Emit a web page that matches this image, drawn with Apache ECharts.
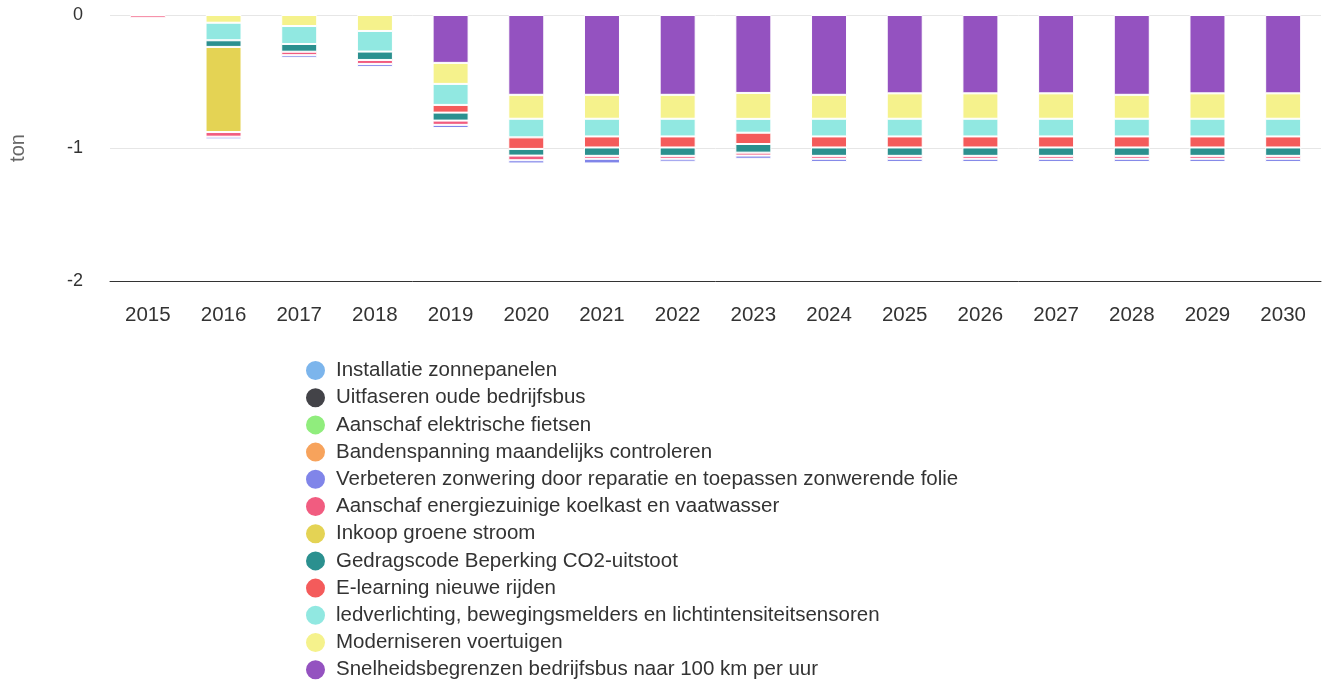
<!DOCTYPE html>
<html>
<head>
<meta charset="utf-8">
<script src="https://cdn.jsdelivr.net/npm/echarts@6/dist/echarts.min.js"></script>
<style>
  html, body { margin: 0; padding: 0; background: #fff; }
  #chart { width: 1323px; height: 684px; }
</style>
</head>
<body>
<div id="chart"></div>
<script>
const years = ['2015', '2016', '2017', '2018', '2019', '2020', '2021', '2022',
  '2023', '2024', '2025', '2026', '2027', '2028', '2029', '2030']

// series in legend order
const names = [
  'Installatie zonnepanelen',
  'Uitfaseren oude bedrijfsbus',
  'Aanschaf elektrische fietsen',
  'Bandenspanning maandelijks controleren',
  'Verbeteren zonwering door reparatie en toepassen zonwerende folie',
  'Aanschaf energiezuinige koelkast en vaatwasser',
  'Inkoop groene stroom',
  'Gedragscode Beperking CO2-uitstoot',
  'E-learning nieuwe rijden',
  'ledverlichting, bewegingsmelders en lichtintensiteitsensoren',
  'Moderniseren voertuigen',
  'Snelheidsbegrenzen bedrijfsbus naar 100 km per uur'
]
const colors = ['#7cb5ec', '#434348', '#90ed7d', '#f7a35c', '#8085e9', '#f15c80',
  '#e4d354', '#2b908f', '#f45b5b', '#91e8e1', '#f5f28c', '#9452c0']

const zonnepanelen = [0, 0, 0, 0, 0, 0, 0, 0, 0, 0, 0, 0, 0, 0, 0, 0]
const bedrijfsbus = [0, 0, 0, 0, 0, 0, 0, 0, 0, 0, 0, 0, 0, 0, 0, 0]
const fietsen = [0, 0, 0, 0, 0, 0, 0, 0, 0, 0, 0, 0, 0, 0, 0, 0]
const bandenspanning = [0, 0, 0, 0, 0, 0, 0, 0, 0, 0, 0, 0, 0, 0, 0, 0]
const zonwering = [0, -0.02, -0.02, -0.022, -0.024, -0.024, -0.035, -0.022,
  -0.024, -0.024, -0.024, -0.024, -0.024, -0.024, -0.024, -0.024]
const koelkast = [-0.02, -0.035, -0.026, -0.03, -0.032, -0.035, -0.022, -0.022,
  -0.022, -0.022, -0.022, -0.022, -0.022, -0.022, -0.022, -0.022]
const groeneStroom = [0, -0.64, 0, 0, 0, 0, 0, 0, 0, 0, 0, 0, 0, 0, 0, 0]
const gedragscode = [0, -0.05, -0.058, -0.063, -0.06, -0.05, -0.063, -0.063,
  -0.065, -0.063, -0.063, -0.063, -0.063, -0.063, -0.063, -0.063]
const eLearning = [0, 0, 0, 0, -0.058, -0.087, -0.083, -0.083,
  -0.085, -0.083, -0.083, -0.083, -0.083, -0.083, -0.083, -0.083]
const ledverlichting = [0, -0.132, -0.135, -0.155, -0.158, -0.14, -0.133, -0.133,
  -0.104, -0.133, -0.133, -0.133, -0.133, -0.133, -0.133, -0.133]
const voertuigen = [0, -0.058, -0.083, -0.12, -0.158, -0.18, -0.18, -0.18,
  -0.195, -0.18, -0.191, -0.191, -0.191, -0.18, -0.191, -0.191]
const snelheid = [0, 0, 0, 0, -0.36, -0.6, -0.6, -0.6,
  -0.586, -0.6, -0.589, -0.589, -0.589, -0.6, -0.589, -0.589]

const values = [zonnepanelen, bedrijfsbus, fietsen, bandenspanning, zonwering, koelkast,
  groeneStroom, gedragscode, eLearning, ledverlichting, voertuigen, snelheid]

// last series sits closest to zero, so stack in reverse
const series = []
for (let i = names.length - 1; i >= 0; i--) {
  series.push({
    name: names[i],
    type: 'bar',
    stack: 'total',
    barWidth: 36,
    data: values[i].map(v => (v === 0 ? null : v)),
    itemStyle: { color: colors[i], borderColor: '#fff', borderWidth: 1 }
  })
}

const chart = echarts.init(document.getElementById('chart'))
chart.setOption({
  animation: false,
  textStyle: { fontFamily: '"Liberation Sans", Arial, sans-serif' },
  grid: { left: 108, right: 2, top: 15, bottom: 403 },
  legend: {
    orient: 'vertical',
    left: 304,
    top: 359,
    height: 600,
    padding: 0,
    icon: 'circle',
    itemWidth: 31,
    itemHeight: 21,
    itemGap: 4.2,
    data: names,
    textStyle: { fontSize: 20.5, lineHeight: 21, color: '#333' },
    selectedMode: false
  },
  xAxis: {
    type: 'category',
    data: years,
    axisLine: { onZero: false, lineStyle: { color: '#333', width: 1 } },
    axisTick: { show: false },
    axisLabel: { fontSize: 20.5, color: '#333', margin: 24 }
  },
  yAxis: {
    type: 'value',
    min: -2,
    max: 0,
    interval: 1,
    name: 'ton',
    nameLocation: 'middle',
    nameRotate: 90,
    nameGap: 82,
    nameTextStyle: { fontSize: 20, color: '#666' },
    axisLine: { show: false },
    axisTick: { show: false },
    splitLine: { lineStyle: { color: '#e6e6e6' } },
    axisLabel: { fontSize: 18, color: '#333', margin: 27 }
  },
  series: series
})
</script>
</body>
</html>
